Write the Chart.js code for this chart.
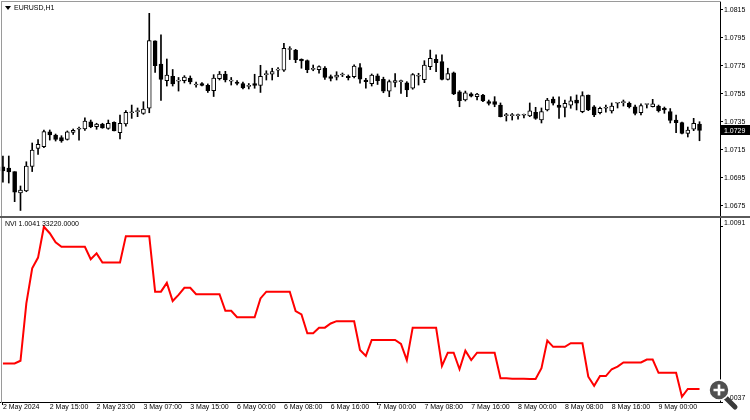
<!DOCTYPE html>
<html lang="en">
<head>
<meta charset="UTF-8">
<title>EURUSD,H1 - NVI</title>
<script src="https://cdn.jsdelivr.net/npm/chart.js"></script>
<style>
  body { margin: 0; background: #fff; }
  #wrap { position: relative; width: 750px; height: 420px; overflow: hidden; background: #fff;
          font-family: 'Liberation Sans', Arial, sans-serif; }
  canvas { position: absolute; left: 0; }
  #priceChart { top: 0; }
  #nviChart { top: 216px; }
  .txt { position: absolute; font-size: 7px; line-height: 8px; color: #000; white-space: nowrap; }
  #frame { position: absolute; left: 1px; top: 1px; width: 719px; height: 401px;
           border-top: 1px solid #9a9a9a; border-left: 1px solid #9a9a9a; }
  #sep { position: absolute; left: 0; top: 216px; width: 750px; height: 2px; background: #5a5a5a; }
  #tri { position: absolute; left: 5px; top: 6px; width: 0; height: 0;
         border-left: 3px solid transparent; border-right: 3px solid transparent; border-top: 4px solid #000; }
</style>
</head>
<body>
<div id="wrap">
  <canvas id="priceChart" width="750" height="217"></canvas>
  <canvas id="nviChart" width="750" height="204"></canvas>
  <div id="frame"></div>
  <div id="sep"></div>
  <div id="tri"></div>
  <div class="txt" style="left:14px; top:4px;">EURUSD,H1</div>
  <div class="txt" id="nviTitle" style="left:5px; top:220px;"></div>
  <svg style="position:absolute; left:704px; top:376px;" width="36" height="36">
    <line x1="21" y1="21" x2="31" y2="31" stroke="#3a3a3a" stroke-width="5" stroke-linecap="round"/>
    <circle cx="15" cy="14" r="10" fill="#505050" stroke="#fff" stroke-width="1.5"/>
    <path d="M15 8.5v11M9.5 14h11" stroke="#fff" stroke-width="2.6"/>
  </svg>
</div>

<script>
// hourly bars shown: 2 May 07:00 .. 9 May 07:00 (weekend gap)
const days = [['2 May', 7, 23], ['3 May', 0, 22], ['6 May', 0, 23], ['7 May', 0, 23], ['8 May', 0, 23], ['9 May', 0, 7]];
const times = [];
days.forEach(([d, from, to]) => {
  for (let h = from; h <= to; h++) times.push(d + ' ' + String(h).padStart(2, '0') + ':00');
});

const tickLabels = ['2 May 2024', '2 May 15:00', '2 May 23:00', '3 May 07:00', '3 May 15:00',
  '6 May 00:00', '6 May 08:00', '6 May 16:00', '7 May 00:00', '7 May 08:00', '7 May 16:00',
  '8 May 00:00', '8 May 08:00', '8 May 16:00', '9 May 00:00'];

const priceTicks = [1.0675, 1.0695, 1.0715, 1.0735, 1.0755, 1.0775, 1.0795, 1.0815];
const nviTicks = [1.0037, 1.0091];

const open = [
  1.07029, 1.07021, 1.06995, 1.06843, 1.06857, 1.07032, 1.07162, 1.07174, 1.07279, 1.07257,
  1.07239, 1.07226, 1.07276, 1.07298, 1.07300, 1.07352, 1.07316, 1.07336, 1.07305, 1.07348,
  1.07274, 1.07336, 1.07416, 1.07424, 1.07412, 1.07448, 1.07929, 1.07764, 1.07646, 1.07677,
  1.07641, 1.07645, 1.07664, 1.07614, 1.07624, 1.07612, 1.07574, 1.07659, 1.07693, 1.07641,
  1.07636, 1.07624, 1.07604, 1.07625, 1.07612, 1.07688, 1.07691, 1.07720, 1.07721, 1.07868,
  1.07864, 1.07798, 1.07788, 1.07726, 1.07724, 1.07736, 1.07674, 1.07670, 1.07686, 1.07677,
  1.07674, 1.07738, 1.07650, 1.07624, 1.07679, 1.07655, 1.07571, 1.07632, 1.07638, 1.07629,
  1.07591, 1.07677, 1.07652, 1.07745, 1.07798, 1.07781, 1.07655, 1.07702, 1.07566, 1.07507,
  1.07552, 1.07531, 1.07543, 1.07495, 1.07495, 1.07471, 1.07396, 1.07396, 1.07396, 1.07398,
  1.07393, 1.07419, 1.07364, 1.07436, 1.07514, 1.07471, 1.07455, 1.07471, 1.07507, 1.07424,
  1.07543, 1.07459, 1.07416, 1.07448, 1.07429, 1.07484, 1.07488, 1.07484, 1.07459, 1.07416,
  1.07475, 1.07459, 1.07464, 1.07448, 1.07424, 1.07364, 1.07345, 1.07269, 1.07298, 1.07336
];
const high = [
  1.07107, 1.07107, 1.06995, 1.06893, 1.07066, 1.07200, 1.07225, 1.07293, 1.07293, 1.07264,
  1.07252, 1.07286, 1.07300, 1.07314, 1.07379, 1.07364, 1.07341, 1.07341, 1.07364, 1.07352,
  1.07400, 1.07431, 1.07471, 1.07450, 1.07495, 1.08126, 1.07929, 1.07973, 1.07800, 1.07725,
  1.07668, 1.07681, 1.07679, 1.07636, 1.07632, 1.07622, 1.07688, 1.07711, 1.07712, 1.07668,
  1.07646, 1.07636, 1.07625, 1.07691, 1.07755, 1.07716, 1.07734, 1.07739, 1.07911, 1.07888,
  1.07869, 1.07801, 1.07793, 1.07757, 1.07752, 1.07745, 1.07686, 1.07709, 1.07700, 1.07686,
  1.07759, 1.07768, 1.07662, 1.07693, 1.07693, 1.07670, 1.07650, 1.07696, 1.07650, 1.07638,
  1.07696, 1.07698, 1.07788, 1.07864, 1.07829, 1.07829, 1.07734, 1.07707, 1.07574, 1.07571,
  1.07559, 1.07555, 1.07548, 1.07507, 1.07531, 1.07486, 1.07412, 1.07411, 1.07407, 1.07407,
  1.07486, 1.07455, 1.07450, 1.07519, 1.07529, 1.07529, 1.07507, 1.07531, 1.07543, 1.07566,
  1.07543, 1.07468, 1.07457, 1.07471, 1.07486, 1.07484, 1.07507, 1.07493, 1.07471, 1.07479,
  1.07475, 1.07512, 1.07471, 1.07457, 1.07446, 1.07400, 1.07350, 1.07314, 1.07376, 1.07352
];
const low = [
  1.06921, 1.06914, 1.06781, 1.06718, 1.06852, 1.06996, 1.07118, 1.07166, 1.07221, 1.07214,
  1.07205, 1.07221, 1.07261, 1.07221, 1.07289, 1.07309, 1.07298, 1.07305, 1.07298, 1.07286,
  1.07229, 1.07321, 1.07376, 1.07388, 1.07405, 1.07416, 1.07704, 1.07504, 1.07607, 1.07607,
  1.07571, 1.07629, 1.07622, 1.07598, 1.07607, 1.07561, 1.07532, 1.07650, 1.07636, 1.07614,
  1.07614, 1.07586, 1.07586, 1.07591, 1.07561, 1.07650, 1.07650, 1.07674, 1.07711, 1.07796,
  1.07774, 1.07734, 1.07702, 1.07716, 1.07698, 1.07655, 1.07643, 1.07650, 1.07674, 1.07650,
  1.07664, 1.07627, 1.07591, 1.07607, 1.07618, 1.07559, 1.07531, 1.07600, 1.07555, 1.07531,
  1.07584, 1.07614, 1.07631, 1.07724, 1.07709, 1.07650, 1.07650, 1.07545, 1.07459, 1.07500,
  1.07529, 1.07507, 1.07495, 1.07471, 1.07459, 1.07386, 1.07357, 1.07364, 1.07371, 1.07379,
  1.07388, 1.07369, 1.07343, 1.07429, 1.07471, 1.07376, 1.07386, 1.07448, 1.07436, 1.07416,
  1.07431, 1.07388, 1.07407, 1.07421, 1.07414, 1.07450, 1.07464, 1.07450, 1.07400, 1.07400,
  1.07450, 1.07457, 1.07421, 1.07412, 1.07343, 1.07274, 1.07264, 1.07243, 1.07288, 1.07216
];
const close = [
  1.07000, 1.06993, 1.06848, 1.06864, 1.07036, 1.07150, 1.07191, 1.07281, 1.07257, 1.07226,
  1.07214, 1.07279, 1.07291, 1.07298, 1.07357, 1.07316, 1.07336, 1.07307, 1.07341, 1.07286,
  1.07341, 1.07419, 1.07416, 1.07424, 1.07443, 1.07931, 1.07752, 1.07654, 1.07686, 1.07622,
  1.07650, 1.07670, 1.07636, 1.07614, 1.07612, 1.07574, 1.07664, 1.07693, 1.07650, 1.07650,
  1.07625, 1.07593, 1.07604, 1.07612, 1.07677, 1.07688, 1.07711, 1.07720, 1.07876, 1.07868,
  1.07795, 1.07786, 1.07724, 1.07726, 1.07745, 1.07668, 1.07662, 1.07686, 1.07686, 1.07667,
  1.07750, 1.07656, 1.07638, 1.07686, 1.07645, 1.07571, 1.07638, 1.07646, 1.07638, 1.07579,
  1.07688, 1.07677, 1.07757, 1.07805, 1.07774, 1.07655, 1.07695, 1.07550, 1.07502, 1.07559,
  1.07534, 1.07550, 1.07501, 1.07482, 1.07475, 1.07388, 1.07396, 1.07396, 1.07396, 1.07398,
  1.07429, 1.07376, 1.07424, 1.07507, 1.07484, 1.07455, 1.07484, 1.07502, 1.07484, 1.07538,
  1.07436, 1.07400, 1.07448, 1.07448, 1.07464, 1.07484, 1.07488, 1.07459, 1.07412, 1.07468,
  1.07475, 1.07479, 1.07431, 1.07436, 1.07361, 1.07345, 1.07269, 1.07293, 1.07341, 1.07290
];

const nvi = [
  1.00489, 1.00489, 1.00489, 1.00497, 1.00674, 1.00782, 1.00815, 1.00910, 1.00890, 1.00862,
  1.00848, 1.00848, 1.00848, 1.00848, 1.00848, 1.00810, 1.00828, 1.00800, 1.00800, 1.00800,
  1.00800, 1.00881, 1.00881, 1.00881, 1.00881, 1.00881, 1.00710, 1.00710, 1.00737, 1.00681,
  1.00700, 1.00722, 1.00722, 1.00702, 1.00702, 1.00702, 1.00702, 1.00702, 1.00651, 1.00651,
  1.00631, 1.00631, 1.00631, 1.00631, 1.00689, 1.00710, 1.00710, 1.00710, 1.00710, 1.00710,
  1.00650, 1.00640, 1.00582, 1.00582, 1.00599, 1.00599, 1.00612, 1.00619, 1.00619, 1.00619,
  1.00619, 1.00530, 1.00512, 1.00561, 1.00561, 1.00561, 1.00561, 1.00561, 1.00549, 1.00499,
  1.00599, 1.00599, 1.00599, 1.00599, 1.00599, 1.00481, 1.00522, 1.00522, 1.00471, 1.00528,
  1.00499, 1.00522, 1.00522, 1.00522, 1.00522, 1.00443, 1.00443, 1.00442, 1.00442, 1.00442,
  1.00441, 1.00441, 1.00474, 1.00559, 1.00540, 1.00540, 1.00540, 1.00551, 1.00551, 1.00551,
  1.00448, 1.00420, 1.00450, 1.00450, 1.00471, 1.00479, 1.00492, 1.00492, 1.00492, 1.00492,
  1.00501, 1.00501, 1.00460, 1.00460, 1.00460, 1.00460, 1.00386, 1.00410, 1.00410, 1.00410
];
const nviVolume = '33220.0000';

// a few empty slots on the right, like the chart shift in the terminal
const labels = times.concat(['', '', '']);
const axisFont = { family: "'Liberation Sans', Arial, sans-serif", size: 7, lineHeight: 0.2 };

document.getElementById('nviTitle').textContent = 'NVI ' + nvi[nvi.length - 1].toFixed(4) + ' ' + nviVolume;

// black box with the last close on the price axis
const lastPriceTag = {
  id: 'lastPriceTag',
  afterDraw(chart) {
    const last = close[close.length - 1];
    const y = chart.scales.y.getPixelForValue(last);
    const x = chart.chartArea.right;
    const ctx = chart.ctx;
    ctx.save();
    ctx.fillStyle = '#000';
    ctx.fillRect(x + 1, Math.round(y) - 5, 29, 10);
    ctx.fillStyle = '#fff';
    ctx.font = "7px 'Liberation Sans', Arial, sans-serif";
    ctx.textBaseline = 'middle';
    ctx.fillText(last.toFixed(4), x + 4, y + 0.5);
    ctx.restore();
  }
};

const rightAxis = (min, max, ticks, labelOffset) => ({
  position: 'right',
  min: min,
  max: max,
  afterBuildTicks: s => { s.ticks = ticks.map(v => ({ value: v })); },
  afterFit: s => { s.width = 30; },
  ticks: { font: axisFont, color: '#000', padding: 1, labelOffset: labelOffset, callback: v => v.toFixed(4) },
  grid: { drawOnChartArea: false, drawTicks: true, tickLength: 3, color: '#000' },
  border: { display: true, color: '#000' }
});

new Chart(document.getElementById('priceChart'), {
  type: 'bar',
  data: {
    labels: labels,
    datasets: [
      {
        label: 'body',
        data: open.map((o, i) => [o, close[i]]),
        backgroundColor: open.map((o, i) => close[i] >= o ? '#fff' : '#000'),
        borderColor: '#000',
        borderWidth: 1,
        borderSkipped: false,
        barThickness: 4,
        minBarLength: 1,
        grouped: false,
        order: 0
      },
      {
        label: 'wick',
        data: low.map((l, i) => [l, high[i]]),
        backgroundColor: '#000',
        borderWidth: 0,
        barThickness: 1,
        grouped: false,
        order: 1
      }
    ]
  },
  options: {
    responsive: false,
    animation: false,
    events: [],
    layout: { padding: { top: 2, bottom: 2, left: 0, right: 0 } },
    plugins: { legend: { display: false }, tooltip: { enabled: false } },
    scales: {
      x: { display: false, offset: true, grid: { display: false } },
      y: rightAxis(1.066857, 1.082071, priceTicks, 0)
    }
  },
  plugins: [lastPriceTag]
});

new Chart(document.getElementById('nviChart'), {
  type: 'line',
  data: {
    labels: labels,
    datasets: [{
      label: 'NVI',
      data: nvi,
      borderColor: '#ff0000',
      borderWidth: 2,
      pointRadius: 0,
      tension: 0,
      fill: false
    }]
  },
  options: {
    responsive: false,
    animation: false,
    events: [],
    layout: { padding: { top: 2, bottom: 0, left: 0, right: 0 } },
    plugins: { legend: { display: false }, tooltip: { enabled: false } },
    scales: {
      x: {
        offset: true,
        afterFit: s => { s.height = 18; },
        ticks: {
          autoSkip: false, maxRotation: 0, minRotation: 0, align: 'start', padding: 1,
          font: axisFont, color: '#000',
          callback: (v, i) => (i % 8 === 0 && i < times.length) ? tickLabels[i / 8] : null
        },
        grid: {
          drawOnChartArea: false, drawTicks: true, tickLength: 3,
          color: c => (c.index % 8 === 0 && c.index < times.length) ? '#000' : 'rgba(0,0,0,0)'
        },
        border: { display: true, color: '#000' }
      },
      y: rightAxis(1.0037, 1.009369, nviTicks, -4)
    }
  }
});
</script>
</body>
</html>
